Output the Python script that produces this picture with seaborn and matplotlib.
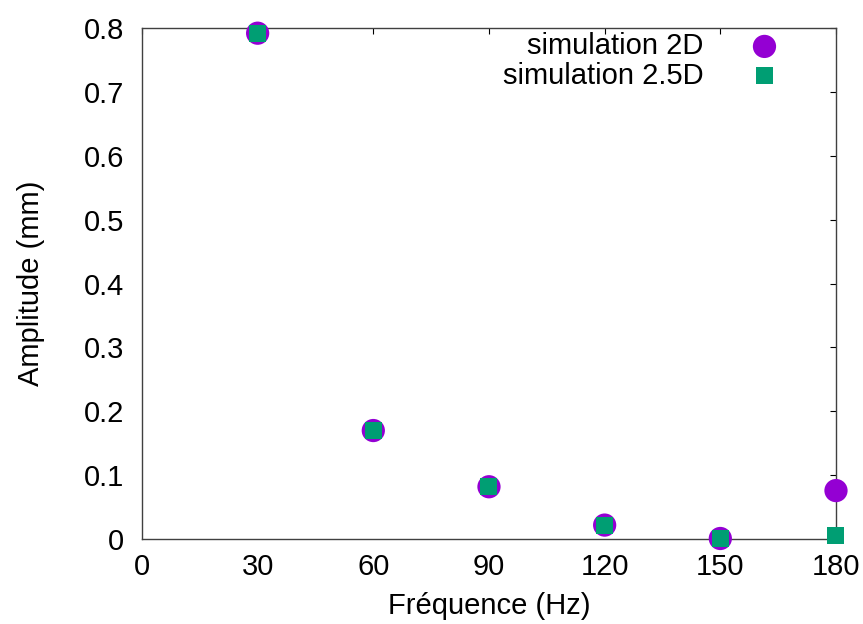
import matplotlib
matplotlib.use("Agg")
import matplotlib.pyplot as plt
import seaborn as sns
import pandas as pd

# Data
freq = [30, 60, 90, 120, 150, 180]
amp_2d = [0.792, 0.170, 0.082, 0.022, 0.001, 0.076]
amp_25d = [0.792, 0.170, 0.082, 0.022, 0.001, 0.005]

sns.set_style("white")
plt.rcParams['font.family'] = ['Liberation Sans', 'DejaVu Sans']
plt.rcParams['text.color'] = 'black'
plt.rcParams['axes.labelcolor'] = 'black'
plt.rcParams['xtick.color'] = 'black'
plt.rcParams['ytick.color'] = 'black'

df2 = pd.DataFrame({'f': freq, 'a': amp_2d})
df25 = pd.DataFrame({'f': freq, 'a': amp_25d})

fig, ax = plt.subplots(figsize=(8.63, 6.24), dpi=100)
fig.subplots_adjust(left=0.1645, right=0.9687, top=0.955, bottom=0.136)

sns.scatterplot(data=df2, x='f', y='a', ax=ax, marker='o', color='#9400d3',
                s=280, edgecolor='none', label='simulation 2D', clip_on=False, zorder=3)
sns.scatterplot(data=df25, x='f', y='a', ax=ax, marker='s', color='#009e73',
                s=150, edgecolor='none', label='simulation 2.5D', clip_on=False, zorder=4)

ax.set_xlim(0, 180)
ax.set_ylim(0, 0.8)
ax.set_xticks(range(0, 181, 30))
ax.set_yticks([i / 10 for i in range(9)])
ax.set_yticklabels(['0', '0.1', '0.2', '0.3', '0.4', '0.5', '0.6', '0.7', '0.8'])
ax.tick_params(direction='in', length=4.5, width=0.8, top=True, right=True,
               labelsize=21)
ax.tick_params(axis='x', pad=10)
ax.tick_params(axis='y', pad=13)
for sp in ax.spines.values():
    sp.set_color('#404040')
    sp.set_linewidth(1.0)

ax.set_xlabel('Fréquence (Hz)', fontsize=21, labelpad=8)
ax.set_ylabel('Amplitude (mm)', fontsize=21, labelpad=28)

leg = ax.legend(loc='upper right', frameon=False, markerfirst=False, fontsize=21,
                handletextpad=1.0, borderaxespad=0.0, labelspacing=0.05,
                handlelength=2.2, bbox_to_anchor=(0.96, 1.015))

fig.savefig('out.png', dpi=100)
